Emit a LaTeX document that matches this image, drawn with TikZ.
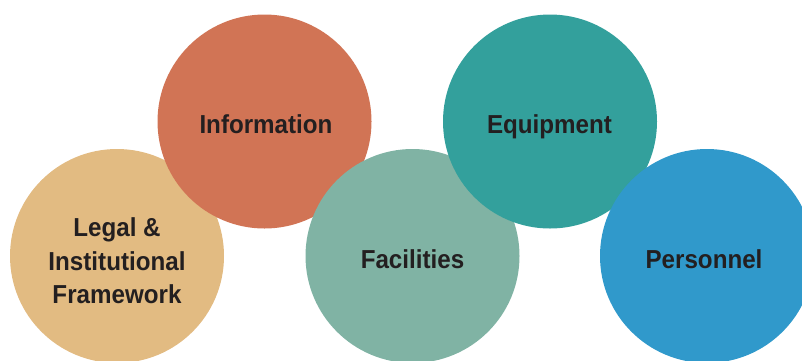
\documentclass[tikz,border=0pt]{standalone}
\usepackage{fontspec}
\setmainfont{Liberation Sans}[FakeStretch=0.93]
\definecolor{legalc}{HTML}{E2BB82}
\definecolor{infoc}{HTML}{D17455}
\definecolor{facc}{HTML}{80B3A4}
\definecolor{equipc}{HTML}{33A09C}
\definecolor{persc}{HTML}{3099CB}
\definecolor{txtc}{HTML}{231F20}
\begin{document}
\begin{tikzpicture}[x=1pt,y=-1pt,
  blob/.style={circle, inner sep=0pt, minimum size=214pt},
  lbl/.style={anchor=base, inner sep=0pt, text=txtc, align=center,
    font=\fontsize{26}{33.3}\selectfont\bfseries}]
\useasboundingbox (0,0) rectangle (802,360);
\clip (0,0) rectangle (802,360);
\node[blob, fill=legalc] (legal) at (117,256) {};
\node[blob, fill=infoc] (info) at (264.5,121.5) {};
\node[blob, fill=facc] (fac) at (412.5,256) {};
\node[blob, fill=equipc] (equip) at (550,121.5) {};
\node[blob, fill=persc] (pers) at (707,256) {};
\node[lbl] (legalt) at (117,303.3) {Legal \&\\Institutional\\Framework};
\node[lbl] (infot) at (266,133.3) {Information};
\node[lbl] (fact) at (412.5,268.7) {Facilities};
\node[lbl] (equipt) at (549.5,133.3) {Equipment};
\node[lbl] (perst) at (704,268) {Personnel};
\end{tikzpicture}
\end{document}
